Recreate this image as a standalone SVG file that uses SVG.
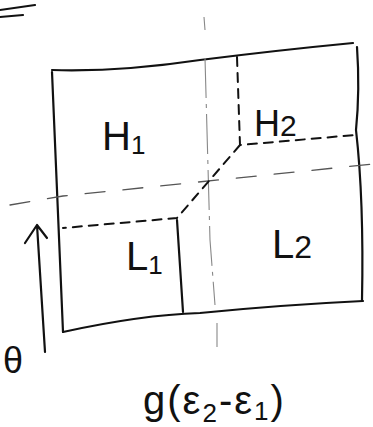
<svg xmlns="http://www.w3.org/2000/svg" width="373" height="427" viewBox="0 0 373 427">
<style>
.ink{fill:none;stroke:#111;stroke-width:2.2;stroke-linecap:round;stroke-linejoin:round}
.dash{fill:none;stroke:#111;stroke-width:2;stroke-dasharray:9 7;stroke-linecap:round}
.faint{fill:none;stroke:#555;stroke-width:1.3;stroke-dasharray:20 18;stroke-linecap:round}
.axis{fill:none;stroke:#888;stroke-width:1.1;stroke-dasharray:40 6 4 6}
text{font-family:"Liberation Sans",Arial,sans-serif;fill:#111;font-weight:300}
</style>
<rect width="373" height="427" fill="#fff"/>
<g id="mark">
<path class="ink" d="M0 10 L35 5 M0 17 L23 15"/>
</g>
<g id="box">
<path class="ink" d="M52 70 Q120 72 200 60 Q280 50 353 43"/>
<path class="ink" d="M52 72 L63 332"/>
<path class="ink" d="M63 332 Q140 315 200 313 Q280 305 363 301"/>
<path class="ink" d="M357 47 Q360 90 356 130 Q364 200 362 300"/>
</g>
<g id="connectors">
<path class="axis" d="M204 17 L205 30 M205 58 L210 240 L215 305"/>
<path class="axis" d="M217 323 L217 347"/>
<path class="faint" d="M10 205 L63 196 L373 164"/>
<path class="dash" d="M237 57 L240 145 L355 135"/>
<path class="dash" d="M240 145 L177 218 L63 228"/>
<path class="ink" d="M177 220 L183 312"/>
</g>
<g id="arrow">
<path class="ink" d="M45 352 L37 225 M25 243 L37 225 L47 238"/>
</g>
<g id="H1"><text x="102" y="150" font-size="40">H<tspan font-size="26" dy="4">1</tspan></text></g>
<g id="H2"><text x="254" y="136" font-size="36">H<tspan font-size="30">2</tspan></text></g>
<g id="L1"><text x="126" y="270" font-size="40">L<tspan font-size="26" dy="4">1</tspan></text></g>
<g id="L2"><text x="272" y="258" font-size="40">L<tspan font-size="32">2</tspan></text></g>
<g id="theta"><text x="3" y="373" font-size="36">θ</text></g>
<g id="xlabel"><text x="143" y="414" font-size="40" letter-spacing="2">g(ε<tspan font-size="26" dy="8">2</tspan><tspan dy="-8">-ε</tspan><tspan font-size="26" dy="6">1</tspan><tspan dy="-6">)</tspan></text></g>
</svg>
